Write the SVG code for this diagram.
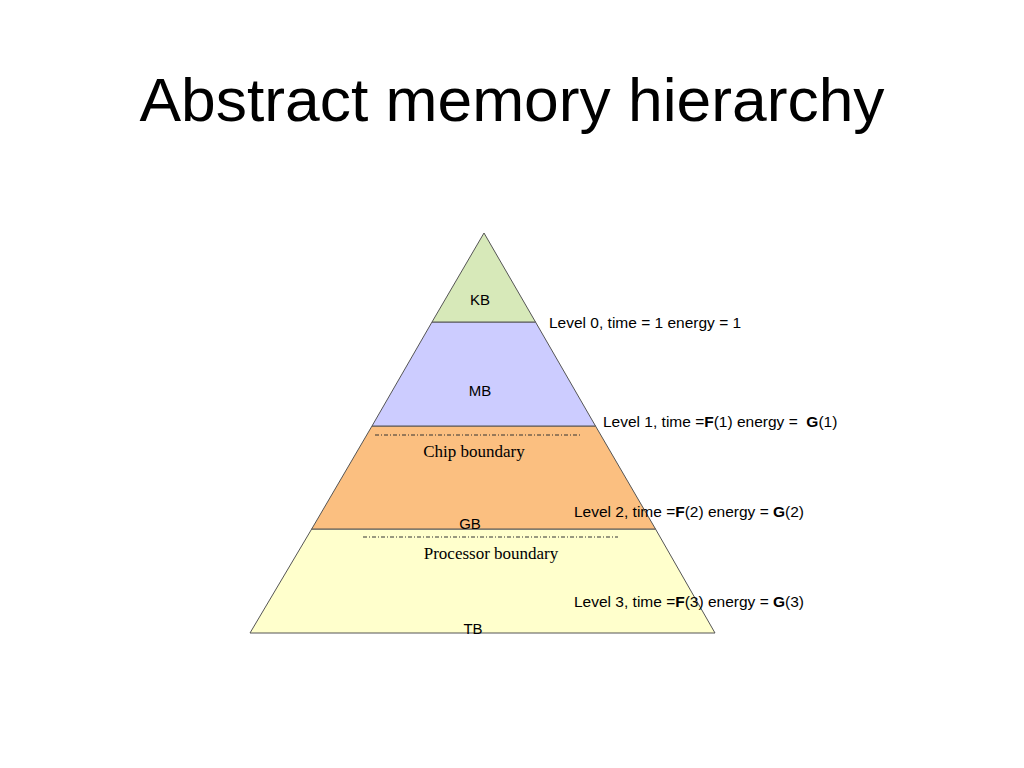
<svg xmlns="http://www.w3.org/2000/svg" width="1024" height="768" viewBox="0 0 1024 768">
<style>
.lvl{stroke:#555;stroke-width:1}
.sans{font-family:"Liberation Sans",Arial,sans-serif;fill:#000}
.serif{font-family:"Liberation Serif","Times New Roman",serif;fill:#000}
.lab{font-size:15px}
.lv{font-size:15.5px}
.bnd{stroke:#333;stroke-width:1;stroke-dasharray:4,2,1,2;fill:none}
</style>
<rect width="1024" height="768" fill="#fff"/>
<text class="sans" x="512" y="121" font-size="62" text-anchor="middle" textLength="745" lengthAdjust="spacingAndGlyphs">Abstract memory hierarchy</text>
<g id="tb">
<polygon class="lvl" points="311.7,529 655.5,529 715,633 250,633" fill="#ffffcc"/>
<text class="sans lab" x="473" y="634" text-anchor="middle">TB</text>
</g>
<g id="gb">
<polygon class="lvl" points="372,426 595.5,426 655.5,529 311.7,529" fill="#fbbf80"/>
<text class="sans lab" x="470" y="529" text-anchor="middle">GB</text>
</g>
<g id="mb">
<polygon class="lvl" points="432,322 535.5,322 595.5,426 372,426" fill="#ccccff"/>
<text class="sans lab" x="480" y="396" text-anchor="middle">MB</text>
</g>
<g id="kb">
<polygon class="lvl" points="484,233 535.5,322 432,322" fill="#d7e9b9"/>
<text class="sans lab" x="480" y="305" text-anchor="middle">KB</text>
</g>
<g id="boundaries">
<line class="bnd" x1="375" y1="435" x2="580" y2="435"/>
<text class="serif" x="474" y="457" font-size="17" text-anchor="middle">Chip boundary</text>
<line class="bnd" x1="363" y1="537" x2="618" y2="537"/>
<text class="serif" x="491" y="559" font-size="17" text-anchor="middle">Processor boundary</text>
</g>
<g id="labels" class="sans lv">
<text x="549" y="328">Level 0, time = 1 energy = 1</text>
<text x="603" y="427" xml:space="preserve">Level 1, time =<tspan font-weight="bold">F</tspan>(1) energy = &#160;<tspan font-weight="bold">G</tspan>(1)</text>
<text x="574" y="517">Level 2, time =<tspan font-weight="bold">F</tspan>(2) energy = <tspan font-weight="bold">G</tspan>(2)</text>
<text x="574" y="607">Level 3, time =<tspan font-weight="bold">F</tspan>(3) energy = <tspan font-weight="bold">G</tspan>(3)</text>
</g>
</svg>
